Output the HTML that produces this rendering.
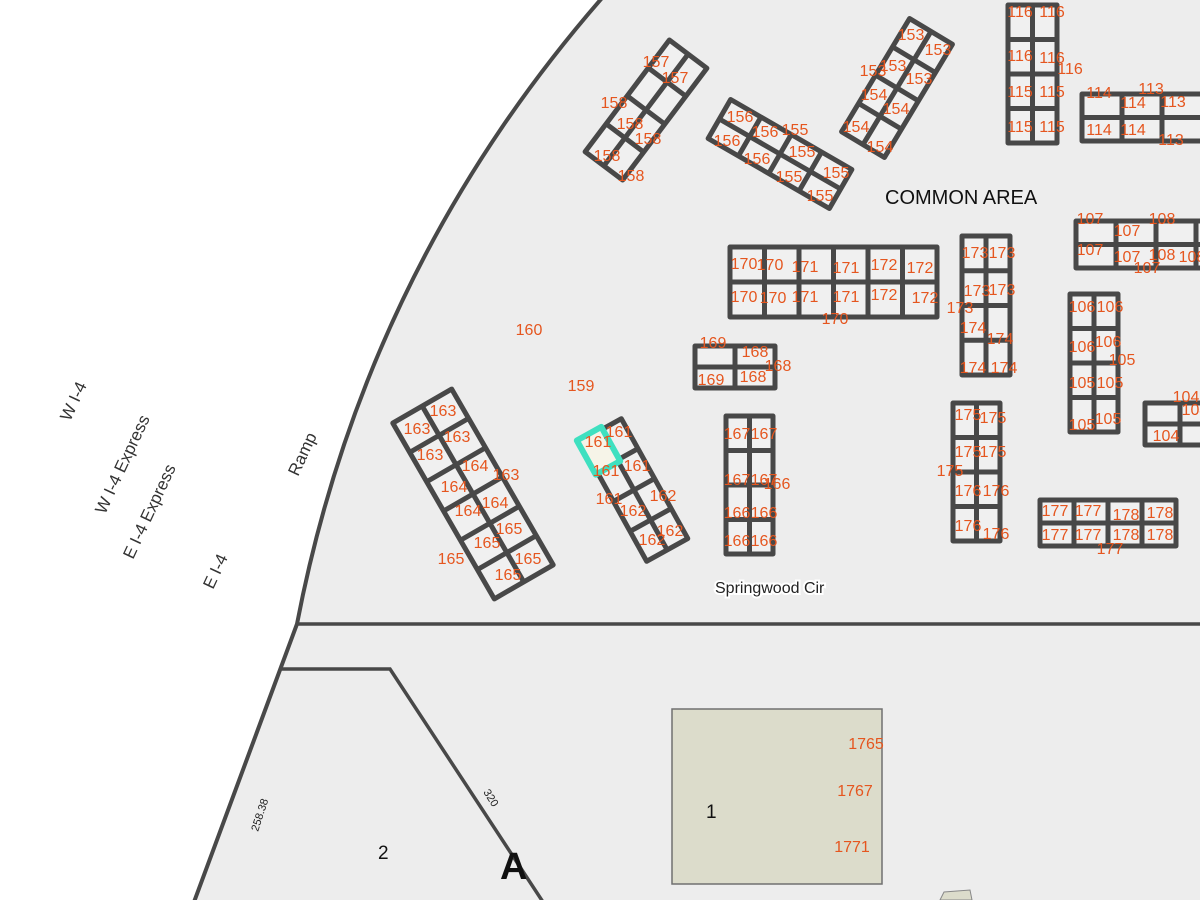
<!DOCTYPE html>
<html><head><meta charset="utf-8"><style>
html,body{margin:0;padding:0;background:#fff;}
svg{display:block;}
.o{fill:#e5561f;font-family:"Liberation Sans",sans-serif;font-size:16px;text-anchor:middle;dominant-baseline:middle;}
.b rect,.b path{fill:none;stroke:#484848;stroke-width:5;stroke-linejoin:round;}
.b rect.f{fill:#f0f0f0;}
.r{fill:#333;font-family:"Liberation Sans",sans-serif;font-size:17px;}
</style></head><body>
<svg width="1200" height="900" viewBox="0 0 1200 900" xmlns="http://www.w3.org/2000/svg">
<rect width="1200" height="900" fill="#fff"/>
<path d="M602,-2 Q365,270 297,624 L1200,624 L1200,-2 Z" fill="#ededed"/>
<path d="M297,624 L194,900 L1200,900 L1200,624 Z" fill="#ededed"/>
<path d="M602,-2 Q365,270 297,624 L194,902" fill="none" stroke="#484848" stroke-width="4"/>
<line x1="297" y1="624" x2="1200" y2="624" stroke="#484848" stroke-width="3.5"/>
<path d="M281,669 L390,669 L543,902" fill="none" stroke="#484848" stroke-width="3.5"/>

<g class="b">
<rect class="f" x="730" y="247" width="207" height="70"/><path d="M764.5,247V317M799,247V317M833.5,247V317M868,247V317M902.5,247V317M730,282H937"/>
<rect class="f" x="962" y="236" width="48" height="139"/><path d="M986,236V375M962,270.75H1010M962,305.5H1010M962,340.25H1010"/>
<rect class="f" x="695" y="346" width="80" height="42"/><path d="M735,346V388M695,367H775"/>
<rect class="f" x="726" y="416" width="47" height="138"/><path d="M749.5,416V554M726,450.5H773M726,485H773M726,519.5H773"/>
<rect class="f" x="953" y="403" width="47" height="138"/><path d="M976.5,403V541M953,437.5H1000M953,472H1000M953,506.5H1000"/>
<rect class="f" x="1070" y="294" width="48" height="138"/><path d="M1094,294V432M1070,328.5H1118M1070,363H1118M1070,397.5H1118"/>
<rect class="f" x="1076" y="221" width="134" height="47"/><path d="M1116,221V268M1156,221V268M1196,221V268M1076,244.5H1210"/>
<rect class="f" x="1145" y="403" width="60" height="42"/><path d="M1180,403V445M1145,424H1205"/>
<rect class="f" x="1040" y="500" width="136" height="46"/><path d="M1074,500V546M1108,500V546M1142,500V546M1040,523H1176"/>
<rect class="f" x="1008" y="5" width="49" height="138"/><path d="M1032.5,5V143M1008,39.5H1057M1008,74H1057M1008,108.5H1057"/>
<rect class="f" x="1082" y="94" width="125" height="47"/><path d="M1122,94V141M1162,94V141M1082,117.5H1207"/>

<g transform="translate(473,494) rotate(-30)"><rect class="f" x="-34" y="-101.5" width="68" height="203"/><path d="M0,-101.5V101.5M-34,-67.7H34M-34,-33.8H34M-34,0H34M-34,33.8H34M-34,67.7H34"/></g>
<g transform="translate(634,490) rotate(-29)"><rect class="f" x="-23.5" y="-68.5" width="47" height="137"/><path d="M0,-68.5V68.5M-23.5,-34.25H23.5M-23.5,0H23.5M-23.5,34.25H23.5"/>
<rect x="-26" y="-71" width="28" height="39" style="stroke:#3fe0c0;stroke-width:6;fill:#f6f4e8"/></g>
<g transform="translate(646,110) rotate(37)"><rect class="f" x="-23.5" y="-70" width="47" height="140"/><path d="M0,-70V70M-23.5,-35H23.5M-23.5,0H23.5M-23.5,35H23.5"/></g>
<g transform="translate(780,154) rotate(30)"><rect class="f" x="-70" y="-22.5" width="140" height="45"/><path d="M-35,-22.5V22.5M0,-22.5V22.5M35,-22.5V22.5M-70,0H70"/></g>
<g transform="translate(897,88) rotate(31)"><rect class="f" x="-25" y="-66" width="50" height="132"/><path d="M0,-66V66M-25,-33H25M-25,0H25M-25,33H25"/></g>
</g>

<rect x="672" y="709" width="210" height="175" fill="#dcdccb" stroke="#707070" stroke-width="1.5"/>
<path d="M940,900 L944,892 L970,890 L972,900 Z" fill="#dcdccb" stroke="#888" stroke-width="1"/>

<g class="o">
<text x="656" y="63">157</text><text x="675" y="79">157</text><text x="614" y="104">158</text><text x="630" y="125">158</text><text x="648" y="140">158</text><text x="607" y="157">158</text><text x="631" y="177">158</text>
<text x="740" y="118">156</text><text x="727" y="142">156</text><text x="757" y="160">156</text><text x="789" y="178">155</text>
<text x="795" y="131">155</text><text x="802" y="153">155</text><text x="836" y="174">155</text><text x="820" y="197">155</text><text x="765" y="133">156</text>
<text x="911" y="36">153</text><text x="938" y="51">153</text><text x="893" y="67">153</text><text x="919" y="80">153</text>
<text x="873" y="72">153</text><text x="874" y="96">154</text><text x="896" y="110">154</text><text x="856" y="128">154</text><text x="880" y="148">154</text>
<text x="1020" y="13">116</text><text x="1052" y="13">116</text><text x="1020" y="57">116</text><text x="1052" y="59">116</text><text x="1070" y="70">116</text>
<text x="1020" y="93">115</text><text x="1052" y="93">115</text><text x="1020" y="128">115</text><text x="1052" y="128">115</text>
<text x="1099" y="94">114</text><text x="1133" y="104">114</text><text x="1099" y="131">114</text><text x="1133" y="131">114</text>
<text x="1151" y="90">113</text><text x="1173" y="103">113</text><text x="1171" y="141">113</text>
<text x="1090" y="220">107</text><text x="1090" y="251">107</text><text x="1127" y="232">107</text><text x="1147" y="269">107</text><text x="1127" y="258">107</text>
<text x="1162" y="220">108</text><text x="1162" y="256">108</text><text x="1192" y="258">108</text>
<text x="744" y="265">170</text><text x="770" y="266">170</text><text x="744" y="298">170</text><text x="773" y="299">170</text><text x="835" y="320">170</text>
<text x="805" y="268">171</text><text x="846" y="269">171</text><text x="805" y="298">171</text><text x="846" y="298">171</text>
<text x="884" y="266">172</text><text x="920" y="269">172</text><text x="884" y="296">172</text><text x="925" y="299">172</text>
<text x="975" y="254">173</text><text x="1002" y="254">173</text><text x="977" y="292">173</text><text x="1002" y="291">173</text><text x="960" y="309">173</text>
<text x="973" y="329">174</text><text x="1000" y="340">174</text><text x="973" y="369">174</text><text x="1004" y="369">174</text>
<text x="713" y="344">169</text><text x="711" y="381">169</text><text x="755" y="353">168</text><text x="753" y="378">168</text><text x="778" y="367">168</text>
<text x="1082" y="308">106</text><text x="1110" y="308">106</text><text x="1082" y="348">106</text><text x="1108" y="343">106</text>
<text x="1122" y="361">105</text><text x="1082" y="384">105</text><text x="1110" y="384">105</text><text x="1082" y="426">105</text><text x="1108" y="420">105</text>
<text x="1186" y="398">104</text><text x="1166" y="437">104</text><text x="1195" y="411">104</text>
<text x="737" y="435">167</text><text x="764" y="435">167</text><text x="737" y="481">167</text><text x="764" y="481">167</text>
<text x="777" y="485">166</text><text x="737" y="514">166</text><text x="764" y="514">166</text><text x="737" y="542">166</text><text x="764" y="542">166</text>
<text x="968" y="416">175</text><text x="993" y="419">175</text><text x="950" y="472">175</text><text x="968" y="453">175</text><text x="993" y="453">175</text>
<text x="968" y="492">176</text><text x="996" y="492">176</text><text x="968" y="527">176</text><text x="996" y="535">176</text>
<text x="1055" y="512">177</text><text x="1088" y="512">177</text><text x="1055" y="536">177</text><text x="1088" y="536">177</text><text x="1110" y="550">177</text>
<text x="1126" y="516">178</text><text x="1160" y="514">178</text><text x="1126" y="536">178</text><text x="1160" y="536">178</text>
<text x="443" y="412">163</text><text x="417" y="430">163</text><text x="457" y="438">163</text><text x="430" y="456">163</text><text x="506" y="476">163</text>
<text x="475" y="467">164</text><text x="454" y="488">164</text><text x="495" y="504">164</text><text x="468" y="512">164</text>
<text x="451" y="560">165</text><text x="487" y="544">165</text><text x="509" y="530">165</text><text x="528" y="560">165</text><text x="508" y="576">165</text>
<text x="598" y="443">161</text><text x="619" y="433">161</text><text x="637" y="467">161</text><text x="609" y="500">161</text><text x="606" y="472">161</text>
<text x="633" y="512">162</text><text x="663" y="497">162</text><text x="670" y="532">162</text><text x="652" y="541">162</text>
<text x="529" y="331">160</text><text x="581" y="387">159</text>
<text x="866" y="745">1765</text><text x="855" y="792">1767</text><text x="852" y="848">1771</text>
</g>
<text x="885" y="204" font-family="Liberation Sans,sans-serif" font-size="20" fill="#111">COMMON AREA</text>
<text x="715" y="593" font-family="Liberation Sans,sans-serif" font-size="16" fill="#222" stroke="#fff" stroke-width="4" paint-order="stroke">Springwood Cir</text>
<g class="r">
<text transform="translate(70,422) rotate(-65)">W I-4</text>
<text transform="translate(105,515) rotate(-65)">W I-4 Express</text>
<text transform="translate(133,560) rotate(-65)">E I-4 Express</text>
<text transform="translate(298,477) rotate(-65)">Ramp</text>
<text transform="translate(213,590) rotate(-65)">E I-4</text>
</g>
<text x="706" y="818" font-family="Liberation Sans,sans-serif" font-size="19" fill="#111">1</text>
<text x="378" y="859" font-family="Liberation Sans,sans-serif" font-size="19" fill="#111">2</text>
<text x="500" y="879" font-family="Liberation Sans,sans-serif" font-size="38" font-weight="bold" fill="#111">A</text>
<text transform="translate(483,792) rotate(58)" font-family="Liberation Sans,sans-serif" font-size="11" fill="#222">320</text>
<text transform="translate(258,832) rotate(-72)" font-family="Liberation Sans,sans-serif" font-size="11" fill="#222">258.38</text>
</svg>
</body></html>
